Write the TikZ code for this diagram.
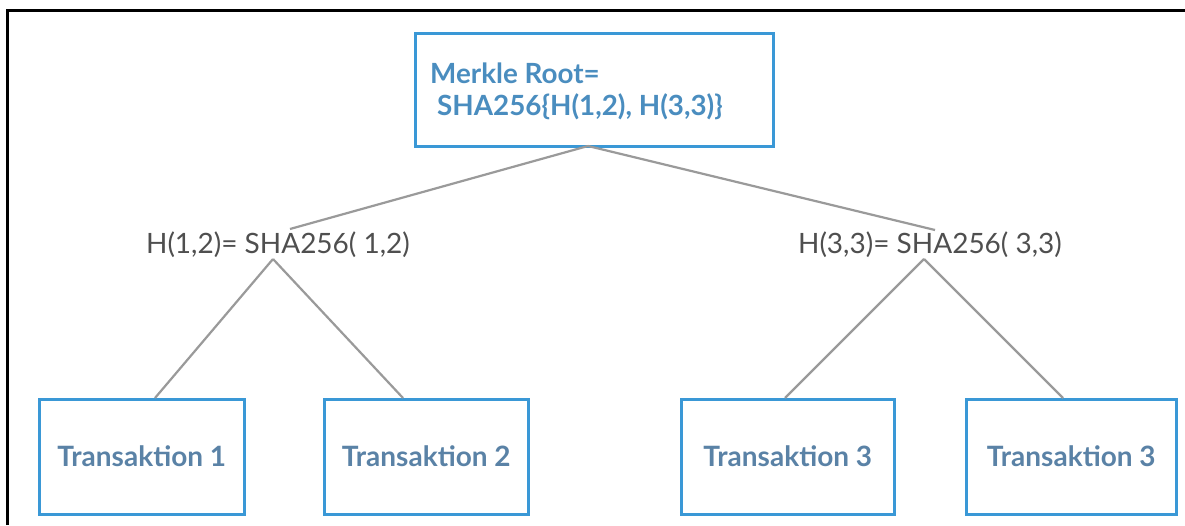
\documentclass[tikz,border=0pt]{standalone}
\usepackage{fontspec}
\setmainfont{Lato}
\definecolor{boxblue}{HTML}{3A98D6}
\definecolor{roottext}{HTML}{4A8DBF}
\definecolor{txtext}{HTML}{5A82A6}
\definecolor{labtext}{HTML}{4F4F4F}
\definecolor{edgegray}{HTML}{9A9A9A}
\tikzset{
  box/.style={draw=boxblue, line width=2.6pt, inner sep=0pt, anchor=north west},
  txlabel/.style={text=txtext, font=\bfseries\fontsize{28}{32}\selectfont},
  rootlabel/.style={anchor=west, text=roottext, font=\bfseries\fontsize{27.8}{32}\selectfont, inner sep=0pt},
  hlabel/.style={text=labtext, font=\fontsize{28}{32}\selectfont, inner sep=0pt},
  edge/.style={draw=edgegray, line width=2.2pt},
}
\begin{document}
\begin{tikzpicture}[x=1pt,y=-1pt]
\useasboundingbox (0,0) rectangle (1185,525);
\fill[white] (0,0) rectangle (1185,525);
\draw[black, line width=2.2pt] (7.5,525) -- (7.5,10.5) -- (1185,10.5);
% root
\node[box, minimum width=358pt, minimum height=113pt] (root) at (414,32) {};
\node[rootlabel] (rootl1) at (430,73) {Merkle Root=};
\node[rootlabel] (rootl2) at (437,107) {SHA256\{H(1,2), H(3,3)\}};
% labels
\node[hlabel] (h12) at (278,245) {H(1,2)= SHA256( 1,2)};
\node[hlabel] (h33) at (930,245) {H(3,3)= SHA256( 3,3)};
\coordinate (rootb) at (588,146);
\coordinate (h12t) at (290,229);
\coordinate (h33t) at (935,230);
\coordinate (h12b) at (273,259);
\coordinate (h33b) at (924,259);
% transactions
\node[box, minimum width=205pt, minimum height=115pt] (t1) at (38,398) {};
\node[box, minimum width=204pt, minimum height=115pt] (t2) at (323,398) {};
\node[box, minimum width=213pt, minimum height=115pt] (t3) at (680,398) {};
\node[box, minimum width=210pt, minimum height=115pt] (t4) at (965,398) {};
\node[txlabel] at ([yshift=1pt]t1.center) {Transaktion 1};
\node[txlabel] at ([yshift=1pt]t2.center) {Transaktion 2};
\node[txlabel] at ([yshift=1pt]t3.center) {Transaktion 3};
\node[txlabel] at ([yshift=1pt]t4.center) {Transaktion 3};
% edges
\draw[edge] (rootb) -- (h12t);
\draw[edge] (rootb) -- (h33t);
\draw[edge] (h12b) -- (t1.north west -| 155,0);
\draw[edge] (h12b) -- (t2.north west -| 403,0);
\draw[edge] (h33b) -- (t3.north west -| 785,0);
\draw[edge] (h33b) -- (t4.north west -| 1063,0);
\end{tikzpicture}
\end{document}
